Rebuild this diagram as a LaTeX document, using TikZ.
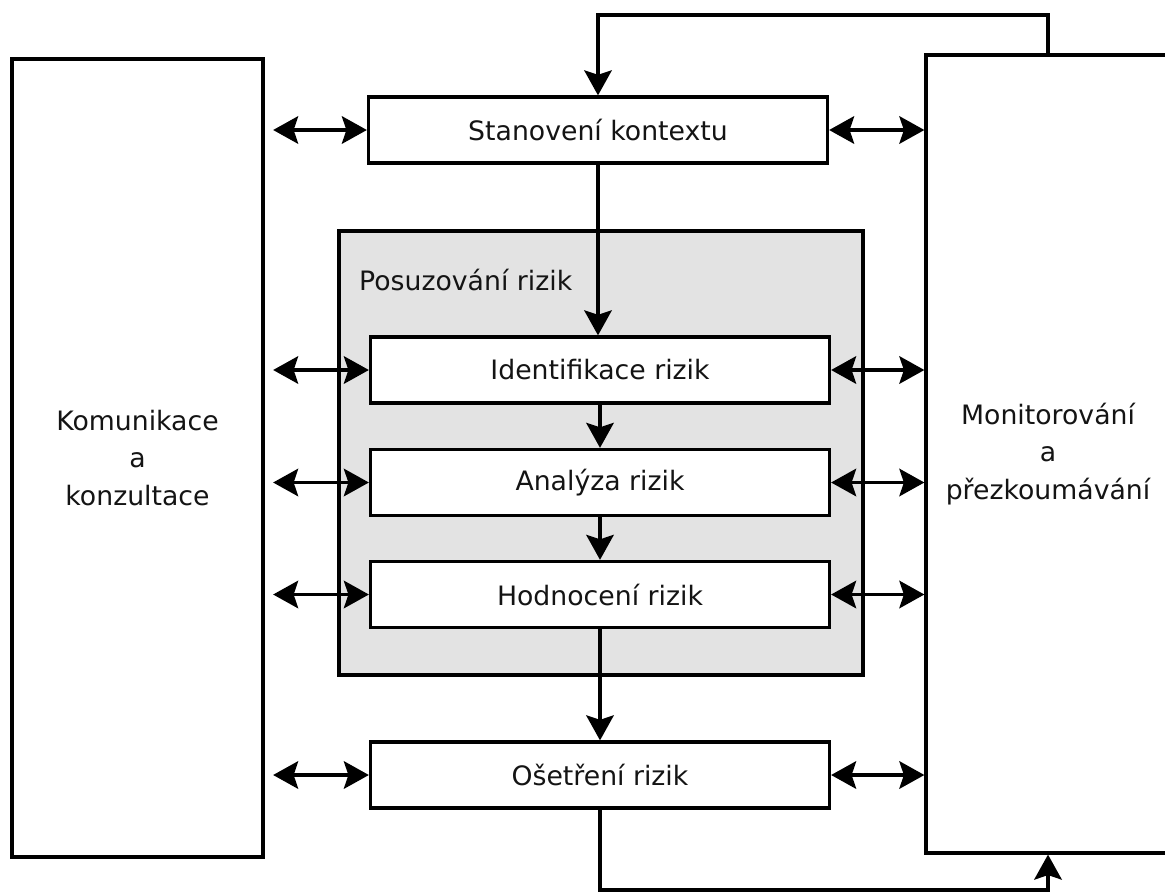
\documentclass[tikz,border=0pt]{standalone}
\usepackage{fontspec}
\setmainfont{DejaVu Sans}
\usetikzlibrary{arrows.meta}
\definecolor{panelgray}{RGB}{227,227,227}
\definecolor{ink}{RGB}{20,20,20}
\begin{document}
\begin{tikzpicture}[
  x=0.02cm, y=-0.02cm,
  every node/.style={font=\fontsize{15.2}{21.5}\selectfont, text=ink},
  frame/.style={draw=black, line width=1.9pt, fill=white, inner sep=0pt, align=center},
  stepbox/.style={frame, minimum width=9.18cm, minimum height=1.32cm},
  tip/.tip={Stealth[length=0.5cm, width=0.55cm, inset=0.09cm]},
  flow/.style={draw=black, line width=1.9pt, -tip},
  both/.style={draw=black, line width=1.9pt, tip-tip},
]
\path[use as bounding box, clip] (0,0) rectangle (1165,893);

% side panels
\node[frame, minimum width=5.02cm, minimum height=15.96cm] (L) at (137.5,458)
  {Komunikace\\a\\konzultace};
\node[frame, minimum width=4.88cm, minimum height=15.96cm] (R) at (1048,454)
  {Monitorování\\a\\přezkoumávání};

% risk assessment group
\node[frame, fill=panelgray, minimum width=10.48cm, minimum height=8.88cm] (G) at (601,453) {};
\node[anchor=west] (Gt) at (353,280) {Posuzování rizik};

% process steps
\node[stepbox] (S) at (598,130) {Stanovení kontextu};
\node[stepbox] (I) at (600,370) {Identifikace rizik};
\node[stepbox] (A) at (600,482.5) {Analýza rizik};
\node[stepbox] (H) at (600,594.5) {Hodnocení rizik};
\node[stepbox] (O) at (600,775) {Ošetření rizik};

% main flow
\draw[flow] (S.south) -- (S.south |- I.north);
\draw[flow] (I.south) -- (A.north);
\draw[flow] (A.south) -- (H.north);
\draw[flow] (H.south) -- (O.north);

% links to the side panels
\foreach \n in {S,I,A,H,O}{
  \draw[both, shorten <=0.17cm] (L.east |- \n.west) -- (\n.west);
  \draw[both] (\n.east) -- (R.west |- \n.east);
}

% feedback loops
\coordinate (top) at (0,15);
\coordinate (bot) at (0,890);
\draw[flow] (R.north) -- (R.north |- top) -| (S.north);
\draw[flow] (O.south) |- (R.south |- bot) -- (R.south);
\end{tikzpicture}
\end{document}
